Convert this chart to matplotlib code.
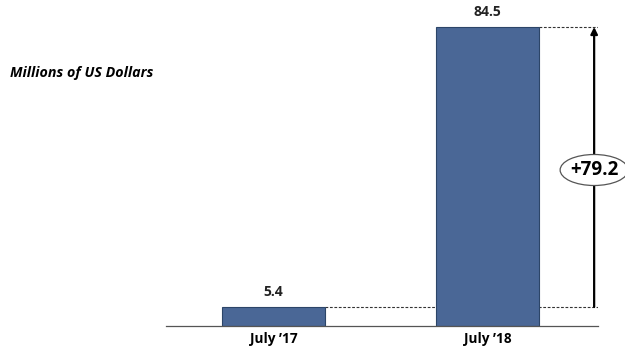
import matplotlib.pyplot as plt
from matplotlib.patches import Ellipse

categories = ["July \u201917", "July \u201918"]
values = [5.4, 84.5]
diff_label = "+79.2"

plt.rcParams['font.family'] = ['Open Sans', 'DejaVu Sans']

fig = plt.figure(figsize=(6.25, 3.49), dpi=100)
ax = fig.add_axes([166 / 625, 1 - 326 / 349, (598 - 166) / 625, 326 / 349])

x = [0, 1]
ax.bar(x, values, width=0.48, color='#4a6796', edgecolor='#2c4568', linewidth=0.8, zorder=2)
ax.set_xlim(-0.502, 1.516)
ax.set_ylim(0, values[1] * 326 / 299)

for xi, v in zip(x, values):
    ax.text(xi, v + 2.3, f"{v:.1f}", ha='center', va='bottom', fontsize=10, fontweight='bold', color='#222222')

# dashed reference lines and difference arrow
ax.hlines(values, [0.24, 1.24], 1.516, colors='#333333', linestyles=(0, (2.5, 1.5)), linewidth=0.8, zorder=1)
ax.annotate('', xy=(1.498, values[1]), xytext=(1.498, values[0]),
            arrowprops=dict(arrowstyle='-|>', color='black', lw=1.6, mutation_scale=10, shrinkA=0, shrinkB=0))
ymid = (326 - 170) / 299 * values[1]
ell = Ellipse((1.498, ymid), width=68 / 214, height=31 / 299 * values[1],
              facecolor='white', edgecolor='#555555', linewidth=0.9, zorder=3, clip_on=False)
ax.add_patch(ell)
ax.text(1.498, ymid, diff_label, ha='center', va='center', fontsize=13.5, fontweight='bold', zorder=4)

ax.set_xticks(x)
ax.set_xticklabels(categories, fontsize=9.8, fontweight='bold')
ax.tick_params(axis='x', length=0, pad=4)
ax.set_yticks([])
for s in ['top', 'right', 'left']:
    ax.spines[s].set_visible(False)
ax.spines['bottom'].set_color('#555555')
ax.spines['bottom'].set_linewidth(0.9)

fig.text(10 / 625, 1 - 73 / 349, "Millions of US Dollars", fontsize=10.3, fontweight='bold',
         fontstyle='italic', va='center', ha='left')

fig.savefig('out.png', dpi=100)
